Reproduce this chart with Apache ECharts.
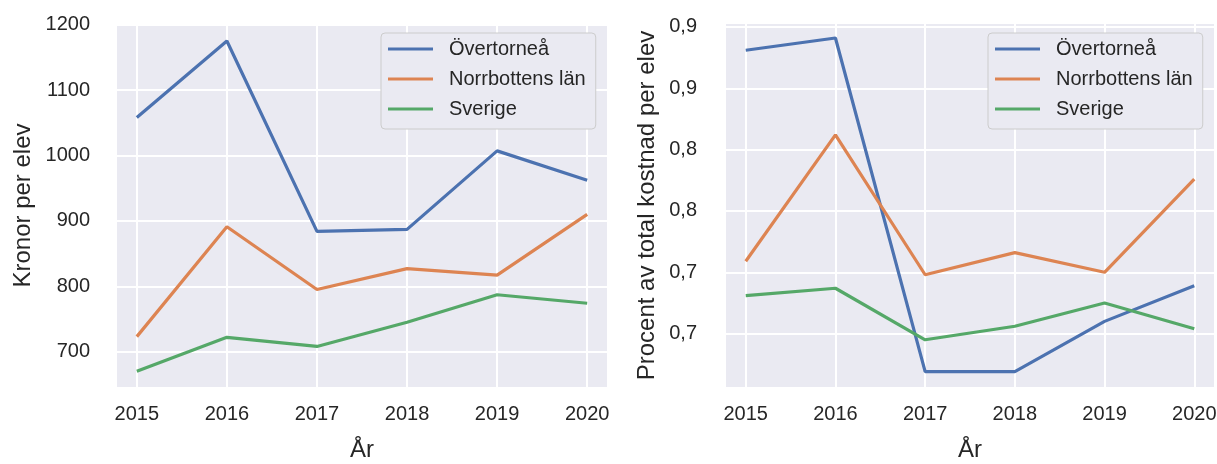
<!DOCTYPE html>
<html>
<head>
<meta charset="utf-8">
<script src="https://cdn.jsdelivr.net/npm/echarts@6/dist/echarts.min.js"></script>
<style>
html,body{margin:0;padding:0;background:#fff}
#chart{width:1217px;height:464px}
</style>
</head>
<body>
<div id="chart"></div>
<script>
var years = [2015, 2016, 2017, 2018, 2019, 2020];
var names = ['Övertorneå', 'Norrbottens län', 'Sverige'];
var colors = ['#4C72B0', '#DD8452', '#55A868'];

// vänster: kronor per elev
var kronorOvertornea = [1058, 1175, 884, 887, 1007, 962];
var kronorNorrbotten = [723, 891, 795, 827, 817, 910];
var kronorSverige = [670, 722, 708, 745, 787, 774];

// höger: procent av total kostnad
var procentOvertornea = [0.881, 0.891, 0.619, 0.619, 0.660, 0.689];
var procentNorrbotten = [0.709, 0.812, 0.698, 0.716, 0.700, 0.776];
var procentSverige = [0.681, 0.687, 0.645, 0.656, 0.675, 0.654];

var kronorTicks = [700, 800, 900, 1000, 1100, 1200];
var procentTicks = [0.65, 0.70, 0.75, 0.80, 0.85, 0.90];
var procentTickLabels = ['0,7', '0,7', '0,8', '0,8', '0,9', '0,9'];

var font = 'Liberation Sans, Arial, sans-serif';
var textColor = '#262626';

function pairs(vals) {
    return years.map(function (y, i) { return [y, vals[i]]; });
}
function tickLabel(ticks, labels) {
    return function (v) {
        for (var i = 0; i < ticks.length; i++) {
            if (Math.abs(v - ticks[i]) < 1e-6) return labels ? labels[i] : String(ticks[i]);
        }
        return '';
    };
}

var gridLine = { show: true, showMinLine: false, showMaxLine: false, lineStyle: { color: '#ffffff', width: 2 } };

function xAxis(gridIndex) {
    return {
        type: 'value', gridIndex: gridIndex, min: 2014.78, max: 2020.22,
        minInterval: 1, maxInterval: 1,
        name: 'År', nameLocation: 'middle', nameGap: 51,
        nameTextStyle: { fontFamily: font, fontSize: 24, color: textColor },
        axisLine: { show: false }, axisTick: { show: false },
        axisLabel: { formatter: tickLabel(years), margin: 17, fontFamily: font, fontSize: 20, color: textColor },
        splitLine: gridLine
    };
}

function legend(left) {
    return {
        data: names, orient: 'vertical', left: left, top: 33,
        icon: 'rect', itemWidth: 45, itemHeight: 3, itemGap: 10,
        padding: [6, 10, 10, 7],
        backgroundColor: '#EAEAF2', borderColor: '#cccccc', borderWidth: 1, borderRadius: 4,
        textStyle: { fontFamily: font, fontSize: 20, color: textColor, lineHeight: 20, padding: [0, 0, 0, 11] }
    };
}

function line(name, color, idx, vals) {
    return {
        name: name, type: 'line', xAxisIndex: idx, yAxisIndex: idx,
        data: pairs(vals), symbol: 'none', smooth: false,
        lineStyle: { color: color, width: 3.2 }, itemStyle: { color: color }
    };
}

var chart = echarts.init(document.getElementById('chart'));
chart.setOption({
    animation: false,
    grid: [
        { left: 117, right: 610, top: 24, bottom: 77, outerBoundsMode: 'none', show: true, backgroundColor: '#EAEAF2', borderWidth: 0 },
        { left: 726, right: 3, top: 24, bottom: 77, outerBoundsMode: 'none', show: true, backgroundColor: '#EAEAF2', borderWidth: 0 }
    ],
    legend: [legend(381), legend(988)],
    xAxis: [xAxis(0), xAxis(1)],
    yAxis: [
        {
            type: 'value', gridIndex: 0, min: 646, max: 1201, minInterval: 100, maxInterval: 100,
            name: 'Kronor per elev', nameLocation: 'middle', nameGap: 82,
            nameTextStyle: { fontFamily: font, fontSize: 24, color: textColor },
            axisLine: { show: false }, axisTick: { show: false },
            axisLabel: { formatter: tickLabel(kronorTicks), margin: 27, fontFamily: font, fontSize: 20, color: textColor },
            splitLine: gridLine
        },
        {
            type: 'value', gridIndex: 1, min: 0.6065, max: 0.9024, minInterval: 0.05, maxInterval: 0.05,
            name: 'Procent av total kostnad per elev', nameLocation: 'middle', nameGap: 67,
            nameTextStyle: { fontFamily: font, fontSize: 24, color: textColor },
            axisLine: { show: false }, axisTick: { show: false },
            axisLabel: { formatter: tickLabel(procentTicks, procentTickLabels), margin: 29, fontFamily: font, fontSize: 20, color: textColor },
            splitLine: gridLine
        }
    ],
    series: [
        line(names[0], colors[0], 0, kronorOvertornea),
        line(names[1], colors[1], 0, kronorNorrbotten),
        line(names[2], colors[2], 0, kronorSverige),
        line(names[0], colors[0], 1, procentOvertornea),
        line(names[1], colors[1], 1, procentNorrbotten),
        line(names[2], colors[2], 1, procentSverige)
    ]
});
</script>
</body>
</html>
